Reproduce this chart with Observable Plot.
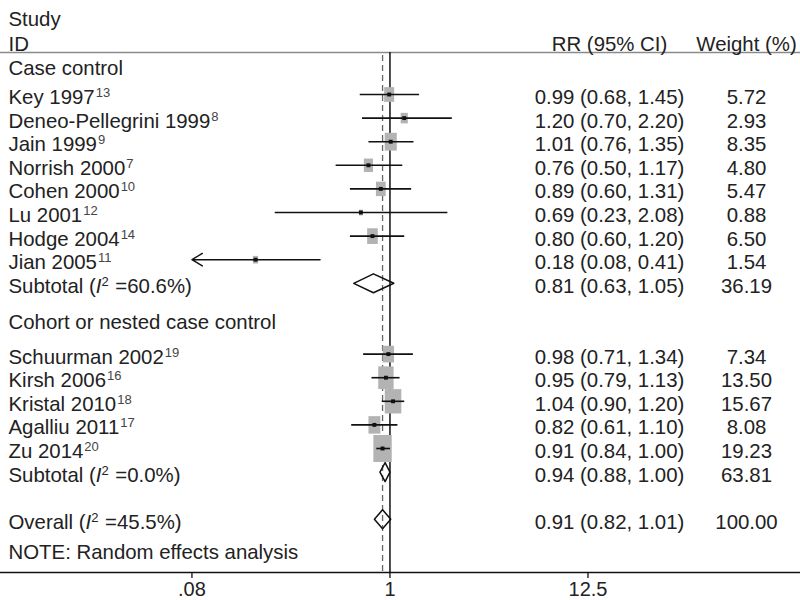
<!DOCTYPE html>
<html><head><meta charset="utf-8">
<script src="https://cdn.jsdelivr.net/npm/d3@7"></script>
<script src="https://cdn.jsdelivr.net/npm/@observablehq/plot@0.6"></script>
<style>body{margin:0;background:#fff} svg{display:block}</style>
</head><body><div id="chart"></div>
<script>
// ---- data ----
const groups = ["Case control", "Cohort or nested case control"];
const studies = ["Key 1997","Deneo-Pellegrini 1999","Jain 1999","Norrish 2000","Cohen 2000","Lu 2001","Hodge 2004","Jian 2005",
                 "Schuurman 2002","Kirsh 2006","Kristal 2010","Agalliu 2011","Zu 2014"];
const refs = ["13","8","9","7","10","12","14","11","19","16","18","17","20"];
const studyGroup = [0,0,0,0,0,0,0,0,1,1,1,1,1];
const rr = [0.99,1.20,1.01,0.76,0.89,0.69,0.80,0.18, 0.98,0.95,1.04,0.82,0.91];
const lo = [0.68,0.70,0.76,0.50,0.60,0.23,0.60,0.08, 0.71,0.79,0.90,0.61,0.84];
const hi = [1.45,2.20,1.35,1.17,1.31,2.08,1.20,0.41, 1.34,1.13,1.20,1.10,1.00];
const weights = [5.72,2.93,8.35,4.80,5.47,0.88,6.50,1.54, 7.34,13.50,15.67,8.08,19.23];

const summaryNames = ["Subtotal", "Subtotal", "Overall"];
const summaryI2 = ["60.6%", "0.0%", "45.5%"];
const summaryRR = [0.81, 0.94, 0.91];
const summaryLo = [0.63, 0.88, 0.82];
const summaryHi = [1.05, 1.00, 1.01];
const summaryWeights = [36.19, 63.81, 100.00];

const xTicks = [0.08, 1, 12.5];
const xTickLabels = [".08", "1", "12.5"];
const headerLeft = ["Study", "ID"];
const headerRR = "RR (95% CI)";
const headerWeight = "Weight (%)";
const note = "NOTE: Random effects analysis";

// ---- layout (row positions in row units) ----
const groupHeaderRow = [-1.19, 9.58];
const groupStart = [0, 11];
const summaryRow = [8, 16, 18];
const noteRow = 19.3;
const headerRows = [-3.26, -2.2];
const headerRule = -1.78;
const axisRow = 20.254;
const topRow = -3.983;
const xMin = 0.08; // axis limit: CIs beyond get an arrow

const rows = studies.map((s, i) => {
  const g = studyGroup[i];
  const idx = studyGroup.slice(0, i).filter(v => v === g).length;
  return {label: s, ref: refs[i], k: groupStart[g] + idx, rr: rr[i], lo: lo[i], hi: hi[i], w: weights[i],
          clipped: lo[i] <= xMin};
});
const sums = summaryNames.map((n, i) => ({label: `${n} (I² =${summaryI2[i]})`, name: n, i2: summaryI2[i],
  k: summaryRow[i], rr: summaryRR[i], lo: summaryLo[i], hi: summaryHi[i], w: summaryWeights[i]}));
const allRows = [...rows, ...sums];
const diamondPts = sums.flatMap((s, i) => [
  {id: i, x: s.lo, y: s.k}, {id: i, x: s.rr, y: s.k - 0.4}, {id: i, x: s.hi, y: s.k}, {id: i, x: s.rr, y: s.k + 0.4}
]);
const ticksData = xTicks.map((t, i) => ({x: t, label: xTickLabels[i]}));
const fmt = v => v.toFixed(2);

const rectSym = {draw(ctx, size) {
  const r = Math.sqrt(size / Math.PI), w = r * 0.68;
  ctx.moveTo(-w, -r); ctx.lineTo(w, -r); ctx.lineTo(w, r); ctx.lineTo(-w, r); ctx.closePath();
}};

const textColor = "#222";
const chart = Plot.plot({
  width: 800, height: 600,
  marginLeft: 0, marginRight: 0, marginTop: 0, marginBottom: 28,
  style: {fontFamily: "'Liberation Sans', Arial, sans-serif", fontSize: "20.4px", color: textColor, background: "#fff", overflow: "visible"},
  x: {type: "log", domain: [0.00696, 188], axis: null},
  y: {domain: [topRow, axisRow], reverse: true, axis: null},
  r: {type: "sqrt", domain: [0, 19.23], range: [0, 13.5]},
  marks: [
    Plot.ruleY([headerRule], {stroke: "#8a8a8a", strokeWidth: 1.5}),
    Plot.ruleX([1], {y1: headerRule, y2: axisRow, stroke: "#111", strokeWidth: 1.5}),
    Plot.ruleX([summaryRR[2]], {y1: -1.65, y2: axisRow, stroke: "#666", strokeWidth: 1.3, strokeDasharray: "6,4"}),
    Plot.dot(rows, {x: "rr", y: "k", r: "w", symbol: rectSym, fill: "#b3b3b3", stroke: "none"}),
    Plot.link(rows.filter(d => !d.clipped), {x1: "lo", x2: "hi", y1: "k", y2: "k", stroke: "#111", strokeWidth: 1.6}),
    Plot.arrow(rows.filter(d => d.clipped), {x1: "hi", x2: d => xMin, y1: "k", y2: "k", stroke: "#111", strokeWidth: 1.4,
      headLength: 13, headAngle: 62, insetStart: 0, insetEnd: 0}),
    Plot.dot(rows, {x: "rr", y: "k", r: 2.2, symbol: "square", fill: "#111"}),
    Plot.line(diamondPts, {x: "x", y: "y", z: "id", curve: "linear-closed", stroke: "#111", strokeWidth: 1.5}),
    // texts
    Plot.text(headerLeft, {y: (d, i) => headerRows[i], text: d => d, frameAnchor: "left", textAnchor: "start", dx: 8, dy: 2}),
    Plot.text([headerRR], {y: () => headerRows[1], text: d => d, frameAnchor: "left", textAnchor: "middle", dx: 609, dy: 2}),
    Plot.text([headerWeight], {y: () => headerRows[1], text: d => d, frameAnchor: "left", textAnchor: "middle", dx: 746, dy: 2}),
    Plot.text(groups, {y: (d, i) => groupHeaderRow[i], text: d => d, frameAnchor: "left", textAnchor: "start", dx: 8, dy: 2}),
    Plot.text(rows, {y: "k", text: "label", frameAnchor: "left", textAnchor: "start", dx: 8, dy: 3, className: "study-labels"}),
    Plot.text(sums, {y: "k", text: "label", frameAnchor: "left", textAnchor: "start", dx: 8, dy: 3, className: "sum-labels"}),
    Plot.text(allRows, {y: "k", text: d => `${fmt(d.rr)} (${fmt(d.lo)}, ${fmt(d.hi)})`, frameAnchor: "left", textAnchor: "middle", dx: 609, dy: 3}),
    Plot.text(allRows, {y: "k", text: d => fmt(d.w), frameAnchor: "left", textAnchor: "middle", dx: 746, dy: 3}),
    Plot.text([note], {y: () => noteRow, text: d => d, frameAnchor: "left", textAnchor: "start", dx: 8, dy: 2}),
    // axis
    Plot.ruleY([axisRow], {stroke: "#111", strokeWidth: 1.5}),
    Plot.ruleX(ticksData, {x: "x", y1: () => axisRow, y2: () => axisRow, insetBottom: -6, stroke: "#111", strokeWidth: 1.3}),
    Plot.text(ticksData, {x: "x", y: () => axisRow, text: "label", dy: 17, fontSize: 20, textAnchor: "middle"})
  ]
});
document.getElementById("chart").append(chart);

// superscripts for references
const ns = "http://www.w3.org/2000/svg";
d3.select(chart).selectAll("g.study-labels text").each(function(_, i) {
  const t = document.createElementNS(ns, "tspan");
  t.setAttribute("font-size", "13");
  t.setAttribute("fill", "#444");
  t.setAttribute("dy", "-7");
  t.setAttribute("dx", "1");
  t.textContent = rows[i].ref;
  this.appendChild(t);
});
// italic I with superscript 2
d3.select(chart).selectAll("g.sum-labels text").each(function(_, i) {
  const s = sums[i];
  this.textContent = "";
  const parts = [
    {txt: s.name + " ("},
    {txt: "I", style: "italic"},
    {txt: "2", size: 13, dy: -7},
    {txt: " =" + s.i2 + ")", dy: 7, dx: 1}
  ];
  for (const p of parts) {
    const t = document.createElementNS(ns, "tspan");
    if (p.style) t.setAttribute("font-style", p.style);
    if (p.size) t.setAttribute("font-size", p.size);
    if (p.dy) t.setAttribute("dy", p.dy);
    if (p.dx) t.setAttribute("dx", p.dx);
    t.textContent = p.txt;
    this.appendChild(t);
  }
  this.setAttribute("style", "white-space:pre");
});
</script></body></html>
